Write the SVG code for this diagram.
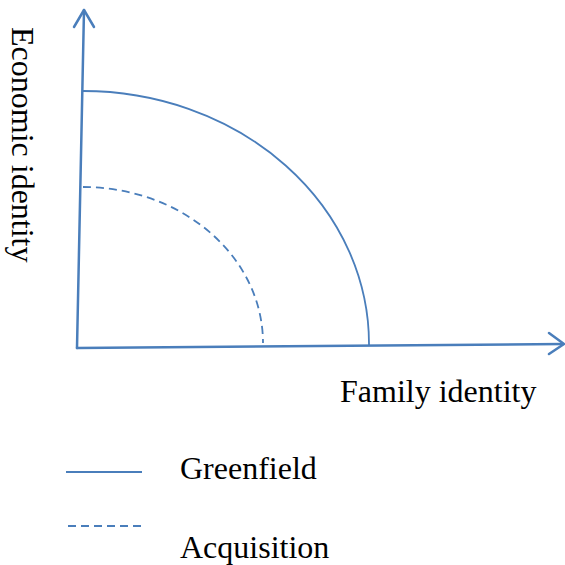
<svg xmlns="http://www.w3.org/2000/svg" width="565" height="565" viewBox="0 0 565 565">
<style>
.ax{fill:none;stroke:#4A7EBB;stroke-width:2.5;stroke-linecap:round;stroke-linejoin:round}
.solid{fill:none;stroke:#4A7EBB;stroke-width:1.8}
.dash{fill:none;stroke:#4A7EBB;stroke-width:1.8;stroke-dasharray:8 5}
.t{font-size:32px;fill:#000}
</style>
<rect width="565" height="565" fill="#fff"/>
<g id="connectors">
<path class="ax" d="M77,348 L84,10"/>
<path class="ax" d="M74,27 L84,10 L94,27"/>
<path class="ax" d="M77,348 L563,344"/>
<path class="ax" d="M549,333 L564,344 L549,354"/>
</g>
<g id="greenfield-curve"><path class="solid" d="M83,91 A286,253 0 0 1 369,345"/></g>
<g id="acquisition-curve"><path class="dash" d="M83,187 A180,156 0 0 1 263,343"/></g>
<g font-family="Liberation Serif, Times New Roman, serif">
<g id="y-label"><text class="t" transform="translate(12,27) rotate(90)">Economic identity</text></g>
<g id="x-label"><text class="t" x="340" y="402">Family identity</text></g>
<g id="legend">
<line class="solid" x1="66" y1="472" x2="142" y2="472"/>
<text class="t" x="180" y="479">Greenfield</text>
<line class="dash" x1="68" y1="526" x2="144" y2="526"/>
<text class="t" x="180" y="558">Acquisition</text>
</g>
</g>
</svg>
